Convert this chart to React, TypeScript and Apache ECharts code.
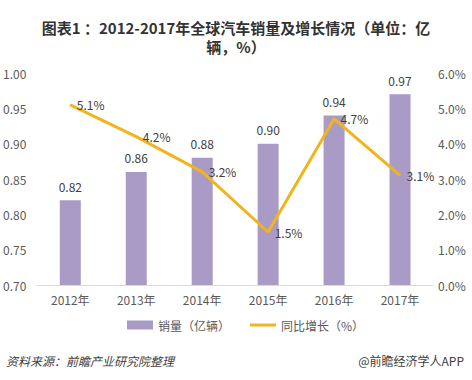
import React, { useEffect, useRef } from "react";
import * as echarts from "echarts";

const categories = ["2012年", "2013年", "2014年", "2015年", "2016年", "2017年"];
const sales = [0.82, 0.86, 0.88, 0.9, 0.94, 0.97];
const growth = [5.1, 4.2, 3.2, 1.5, 4.7, 3.1];
const titleLines = ["图表1 ：2012-2017年全球汽车销量及增长情况（单位：亿", "辆，%）"];
const seriesNames = ["销量（亿辆）", "同比增长（%）"];
const sourceText = "资料来源：前瞻产业研究院整理";
const creditText = "@前瞻经济学人APP";

const FONT = "'Microsoft YaHei', 'Noto Sans CJK SC', sans-serif";

export default function App() {
  const ref = useRef<HTMLDivElement>(null);
  useEffect(() => {
    if (!ref.current) return;
    const chart = echarts.init(ref.current, null, { renderer: "svg" });
    chart.setOption({
      animation: false,
      backgroundColor: "#ffffff",
      textStyle: { fontFamily: FONT },
      title: {
        text: titleLines.join("\n"),
        left: "center",
        top: 13,
        textStyle: { fontSize: 15, fontWeight: "bold", color: "#333333", lineHeight: 19, fontFamily: FONT },
      },
      legend: {
        bottom: 44,
        left: 122,
        itemGap: 20,
        itemWidth: 26,
        itemHeight: 9,
        textStyle: { fontSize: 12, color: "#595959", fontFamily: FONT },
        data: [
          { name: seriesNames[0], icon: "rect" },
          { name: seriesNames[1], icon: "path://M0,0 H26 V3 H0 Z", itemStyle: { color: "#f2b41c" } },
        ],
      },
      grid: { left: 37, right: 39, top: 73, bottom: 95 },
      xAxis: {
        type: "category",
        data: categories,
        axisLine: { lineStyle: { color: "#d9d9d9" } },
        axisTick: { show: false },
        axisLabel: { color: "#595959", fontSize: 12, margin: 8 },
      },
      yAxis: [
        {
          type: "value",
          min: 0.7,
          max: 1.0,
          interval: 0.05,
          axisLine: { show: false },
          axisTick: { show: false },
          splitLine: { show: false },
          axisLabel: {
            color: "#595959",
            fontSize: 12,
            margin: 11,
            formatter: (v: number) => v.toFixed(2),
          },
        },
        {
          type: "value",
          min: 0,
          max: 6,
          interval: 1,
          axisLine: { show: false },
          axisTick: { show: false },
          splitLine: { show: false },
          axisLabel: {
            color: "#595959",
            fontSize: 12,
            margin: 5,
            formatter: (v: number) => v.toFixed(1) + "%",
          },
        },
      ],
      series: [
        {
          name: seriesNames[0],
          type: "bar",
          data: sales,
          barWidth: 21,
          itemStyle: { color: "#a99bc6" },
          label: {
            show: true,
            position: "top",
            distance: 8,
            color: "#404040",
            fontSize: 12,
            formatter: (p: any) => p.value.toFixed(2),
          },
        },
        {
          name: seriesNames[1],
          type: "line",
          yAxisIndex: 1,
          data: growth,
          symbol: "circle",
          symbolSize: 1,
          showSymbol: true,
          lineStyle: { color: "#f2b41c", width: 3 },
          itemStyle: { color: "#f2b41c" },
          label: {
            show: true,
            position: "right",
            distance: 6,
            color: "#404040",
            fontSize: 12,
            formatter: (p: any) => p.value.toFixed(1) + "%",
          },
        },
      ],
      graphic: [
        {
          type: "text",
          left: 6,
          top: 354,
          style: {
            text: sourceText,
            fill: "#404040",
            font: `italic 12px ${FONT}`,
          },
        },
        {
          type: "text",
          right: 8,
          top: 354,
          style: {
            text: creditText,
            fill: "#404040",
            font: `12px ${FONT}`,
          },
        },
      ],
    });
    return () => chart.dispose();
  }, []);
  return <div ref={ref} style={{ width: 472, height: 380, position: "absolute", left: 0, top: 0 }} />;
}
